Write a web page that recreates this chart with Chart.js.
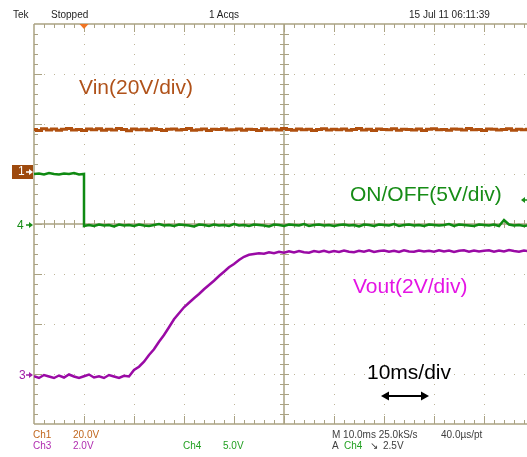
<!DOCTYPE html>
<html><head><meta charset="utf-8">
<script src="https://cdn.jsdelivr.net/npm/chart.js@4"></script>
<style>
html,body{margin:0;padding:0;background:#fff;overflow:hidden;width:527px;height:457px}
#wrap{position:relative;width:527px;height:457px}
canvas{position:absolute;left:0;top:0}
.t{position:absolute;white-space:nowrap;line-height:1;font-family:"Liberation Sans",Arial,sans-serif}
.s{font-size:10px}
.big{font-size:21px}
.dg{font-size:12px}
</style></head><body>
<div id="wrap"><canvas id="c" width="527" height="457"></canvas>
<div class="t s" style="left:13px;top:10px;color:#1e1e1e">Tek</div>
<div class="t s" style="left:51px;top:10px;color:#1e1e1e">Stopped</div>
<div class="t s" style="left:209px;top:10px;color:#1e1e1e">1 Acqs</div>
<div class="t s" style="left:409px;top:10px;color:#1e1e1e">15 Jul 11 06:11:39</div>

<div class="t big" style="left:79px;top:76px;color:#b0521a">Vin(20V/div)</div>
<div class="t big" style="left:350px;top:183px;color:#168c16">ON/OFF(5V/div)</div>
<div class="t big" style="left:353px;top:275px;color:#e414e4">Vout(2V/div)</div>
<div class="t big" style="left:367px;top:361px;color:#000">10ms/div</div>

<div class="t dg" style="left:18px;top:165px;color:#fff">1</div>
<div class="t dg" style="left:17px;top:219px;color:#168c16">4</div>
<div class="t dg" style="left:19px;top:369px;color:#a020a8">3</div>

<div class="t s" style="left:33px;top:430px;color:#c0661c">Ch1</div>
<div class="t s" style="left:73px;top:430px;color:#c0661c">20.0V</div>
<div class="t s" style="left:33px;top:441px;color:#b02cb0">Ch3</div>
<div class="t s" style="left:73px;top:441px;color:#b02cb0">2.0V</div>
<div class="t s" style="left:183px;top:441px;color:#22a022">Ch4</div>
<div class="t s" style="left:223px;top:441px;color:#22a022">5.0V</div>
<div class="t s" style="left:332px;top:430px;color:#404040">M 10.0ms 25.0kS/s</div>
<div class="t s" style="left:441px;top:430px;color:#404040">40.0µs/pt</div>
<div class="t s" style="left:332px;top:441px;color:#404040">A</div>
<div class="t s" style="left:344px;top:441px;color:#22a022">Ch4</div>
<div class="t s" style="left:370px;top:441px;color:#404040">↘</div>
<div class="t s" style="left:383px;top:441px;color:#404040">2.5V</div>
</div>
<script>
// ---- time base (ms), 10 ms/div, trigger at 0 ms ----
const timeMs = [
 -10,-9,-8,-7,-6,-5,-4,-3,-2,-1,
 0,1,2,3,4,5,6,7,8,9,
 10,11,12,13,14,15,16,17,18,19,
 20,21,22,23,24,25,26,27,28,29,
 30,31,32,33,34,35,36,37,38,39,
 40,41,42,43,44,45,46,47,48,49,
 50,51,52,53,54,55,56,57,58,59,
 60,61,62,63,64,65,66,67,68,69,
 70,71,72,73,74,75,76,77,78,79,
 80,81,82,83,84,85,86,87,88,89
];
// Ch1 Vin (V), 20 V/div
const vinVolts = [
 16.8,16.4,17.1,16.6,17.0,16.5,16.9,17.2,16.6,16.8,
 16.4,17.0,16.7,17.1,16.5,16.9,16.6,17.2,16.8,16.3,
 17.0,16.7,16.9,16.5,17.1,16.8,16.4,16.9,17.0,16.6,
 16.8,17.2,16.5,16.7,17.0,16.4,16.9,16.8,17.1,16.6,
 16.7,17.0,16.5,16.9,16.8,16.4,17.1,16.7,16.9,16.6,
 17.2,16.8,16.5,17.0,16.7,16.9,16.4,16.8,17.1,16.6,
 16.9,16.7,17.0,16.5,16.8,17.2,16.6,16.9,16.4,17.0,
 16.8,16.7,17.1,16.5,16.9,16.8,16.6,17.0,16.4,16.9,
 17.1,16.7,16.8,16.5,17.0,16.9,16.6,17.2,16.7,16.8,
 16.4,17.0,16.9,16.6,16.8,17.1,16.5,16.9,16.7,16.9
];
// Ch4 ON/OFF (V), 5 V/div — falls at trigger (t = 0)
const onoffTimeMs = [
 -10,-9,-8,-7,-6,-5,-4,-3,-2,-1,0,
 0,1,2,3,4,5,6,7,8,9,
 10,11,12,13,14,15,16,17,18,19,
 20,21,22,23,24,25,26,27,28,29,
 30,31,32,33,34,35,36,37,38,39,
 40,41,42,43,44,45,46,47,48,49,
 50,51,52,53,54,55,56,57,58,59,
 60,61,62,63,64,65,66,67,68,69,
 70,71,72,73,74,75,76,77,78,79,
 80,81,82,83,84,85,86,87,88,89
];
const onoffVolts = [
 5.1,5.15,5.05,5.2,5.1,5.05,5.15,5.1,5.2,5.05,5.1,
 -0.1,0.0,-0.1,0.05,-0.05,0.0,-0.15,0.05,-0.05,0.0,
 -0.1,0.05,-0.05,-0.1,0.0,0.1,-0.05,0.0,-0.1,0.05,
 0.0,-0.05,-0.15,0.05,0.0,-0.1,0.05,-0.05,0.0,-0.1,
 0.1,-0.05,0.0,-0.1,0.05,0.0,-0.05,-0.15,0.05,0.0,
 -0.1,0.05,0.0,-0.05,0.1,-0.1,0.0,0.05,-0.05,0.0,
 -0.1,0.0,0.05,-0.05,0.0,-0.15,0.05,0.0,-0.1,0.05,
 0.0,-0.05,0.1,-0.1,0.0,0.05,-0.05,0.0,-0.1,0.05,
 0.0,-0.05,0.0,0.1,-0.1,0.05,0.0,-0.05,-0.1,0.05,
 0.0,-0.05,0.05,-0.1,0.5,0.05,-0.05,0.0,-0.1,0.0
];
// Ch3 Vout (V), 2 V/div
const voutVolts = [
 -0.05,-0.12,0.0,-0.06,-0.12,-0.02,-0.1,0.02,-0.06,-0.12,
 -0.05,0.02,-0.1,-0.05,-0.12,0.0,-0.06,-0.12,-0.03,-0.06,
 0.2,0.33,0.53,0.8,1.03,1.33,1.6,1.91,2.23,2.47,
 2.71,2.89,3.07,3.24,3.43,3.6,3.77,3.96,4.13,4.31,
 4.44,4.6,4.73,4.81,4.84,4.87,4.85,4.91,4.87,4.93,
 4.89,4.95,4.9,4.96,4.91,4.89,4.96,4.92,4.97,4.91,
 4.96,4.92,4.98,4.93,4.91,4.97,4.93,4.99,4.92,4.96,
 4.98,4.93,4.97,4.92,4.99,4.94,4.93,4.98,4.94,4.97,
 4.93,4.99,4.94,4.98,4.92,4.97,4.99,4.93,4.98,4.94,
 4.97,4.99,4.93,4.98,4.94,5.0,4.96,4.93,4.98,4.95
];
// channel settings: volts per division, ground position (divisions above bottom of 8-div screen)
const ch1VoltsPerDiv = 20, ch1GroundDiv = 5.05;
const ch4VoltsPerDiv = 5,  ch4GroundDiv = 3.98;
const ch3VoltsPerDiv = 2,  ch3GroundDiv = 0.98;
const triggerLevelV = 2.5;
const screenDivs = 8;
const timeMin = -10, timeMax = 88.6, msPerDiv = 10;

const pts = (xs, ys) => xs.map((x, i) => ({x, y: ys[i]}));
const chAxis = (vpd, g) => ({type:'linear', axis:'y', position:'left', display:false, min:-g*vpd, max:(screenDivs-g)*vpd});

const GRID = '#aaa282', DOT = '#bcb59a';
const scopePlugin = {
  id:'scope',
  beforeDatasetsDraw(chart){
    const {ctx, chartArea:a, scales} = chart;
    const X = v => Math.round(scales.x.getPixelForValue(v));
    const Y = v => Math.round(scales.div.getPixelForValue(v));
    ctx.save();
    ctx.fillStyle = DOT;
    for (let d = 1; d < 10; d++) {
      if (d === 5) continue;
      const px = X(timeMin + d*msPerDiv);
      for (let m = 1; m < 40; m++) ctx.fillRect(px, Y(m*0.2), 1, 1);
    }
    for (let d = 1; d < 8; d++) {
      if (d === 4) continue;
      const py = Y(d);
      for (let m = 1; m < 50; m++) ctx.fillRect(X(timeMin + m*2), py, 1, 1);
    }
    ctx.strokeStyle = GRID; ctx.lineWidth = 1.5;
    const cx = X(timeMin + 5*msPerDiv), cy = Y(4);
    ctx.beginPath();
    ctx.moveTo(cx, a.top); ctx.lineTo(cx, a.bottom);
    ctx.moveTo(a.left, cy); ctx.lineTo(a.right, cy);
    ctx.moveTo(a.left, a.top); ctx.lineTo(a.right+2, a.top);
    ctx.moveTo(a.left, a.bottom); ctx.lineTo(a.right+2, a.bottom);
    ctx.moveTo(a.left, a.top); ctx.lineTo(a.left, a.bottom);
    ctx.stroke();
    ctx.lineWidth = 1;
    ctx.beginPath();
    for (let m = 1; m < 50; m++) {
      const px = X(timeMin + m*2) + 0.5;
      const L = m % 5 === 0 ? 8 : 4;
      ctx.moveTo(px, a.top); ctx.lineTo(px, a.top + L);
      ctx.moveTo(px, a.bottom); ctx.lineTo(px, a.bottom - L);
      ctx.moveTo(px, cy - 4); ctx.lineTo(px, cy + 4);
    }
    for (let m = 1; m < 40; m++) {
      const py = Y(m*0.2) + 0.5;
      const L = m % 5 === 0 ? 8 : 4;
      ctx.moveTo(a.left, py); ctx.lineTo(a.left + L, py);
      ctx.moveTo(cx - 4, py); ctx.lineTo(cx + 5, py);
    }
    ctx.stroke();
    ctx.restore();
  },
  afterDraw(chart){
    const {ctx, chartArea:a, scales} = chart;
    ctx.save();
    const tx = scales.x.getPixelForValue(0);
    ctx.fillStyle = '#f07424';
    ctx.beginPath(); ctx.moveTo(tx-4.5, a.top); ctx.lineTo(tx+4.5, a.top); ctx.lineTo(tx, a.top+5); ctx.closePath(); ctx.fill();
    const arrow = (y, col) => {
      ctx.strokeStyle = col; ctx.fillStyle = col; ctx.lineWidth = 1.5;
      ctx.beginPath(); ctx.moveTo(26, y); ctx.lineTo(30, y); ctx.stroke();
      ctx.beginPath(); ctx.moveTo(29, y-3); ctx.lineTo(33, y); ctx.lineTo(29, y+3); ctx.closePath(); ctx.fill();
    };
    const g1 = Math.round(scales.y1.getPixelForValue(0));
    ctx.fillStyle = '#9e4a0e'; ctx.fillRect(12, g1-7, 21, 14);
    arrow(g1, '#ffffff');
    arrow(Math.round(scales.y4.getPixelForValue(0)), '#168c16');
    arrow(Math.round(scales.y3.getPixelForValue(0)), '#a020a8');
    const ty = Math.round(scales.y4.getPixelForValue(triggerLevelV));
    ctx.fillStyle = '#168c16'; ctx.strokeStyle = '#168c16'; ctx.lineWidth = 1.5;
    ctx.beginPath(); ctx.moveTo(521, ty); ctx.lineTo(525, ty-3); ctx.lineTo(525, ty+3); ctx.closePath(); ctx.fill();
    ctx.beginPath(); ctx.moveTo(524, ty); ctx.lineTo(527, ty); ctx.stroke();
    const ax1 = 381, ax2 = 429, ay = 396;
    ctx.strokeStyle = '#000'; ctx.fillStyle = '#000'; ctx.lineWidth = 2;
    ctx.beginPath(); ctx.moveTo(ax1+5, ay); ctx.lineTo(ax2-5, ay); ctx.stroke();
    ctx.beginPath(); ctx.moveTo(ax1, ay); ctx.lineTo(ax1+8, ay-4.5); ctx.lineTo(ax1+8, ay+4.5); ctx.closePath(); ctx.fill();
    ctx.beginPath(); ctx.moveTo(ax2, ay); ctx.lineTo(ax2-8, ay-4.5); ctx.lineTo(ax2-8, ay+4.5); ctx.closePath(); ctx.fill();
    ctx.restore();
  }
};

const lineDs = (label, data, axis, color, width, stepped) => ({
  label, data, yAxisID: axis, borderColor: color, backgroundColor: color,
  borderWidth: width, pointRadius: 0, tension: 0, fill: false, stepped
});

new Chart(document.getElementById('c'), {
  type: 'line',
  data: { datasets: [
    lineDs('Vin', pts(timeMs, vinVolts), 'y1', '#b0500f', 3, 'middle'),
    lineDs('ON/OFF', pts(onoffTimeMs, onoffVolts), 'y4', '#0f8a12', 2.5, false),
    lineDs('Vout', pts(timeMs, voutVolts), 'y3', '#9a0aa5', 2.5, false)
  ]},
  options: {
    responsive: false, animation: false, devicePixelRatio: 1,
    layout: { padding: { left: 34, top: 24, right: 0, bottom: 33 } },
    plugins: { legend: {display:false}, tooltip: {enabled:false}, title:{display:false} },
    scales: {
      x: { type:'linear', axis:'x', position:'bottom', display:false, min: timeMin, max: timeMax },
      div: { type:'linear', axis:'y', position:'left', display:false, min: 0, max: screenDivs },
      y1: chAxis(ch1VoltsPerDiv, ch1GroundDiv),
      y4: chAxis(ch4VoltsPerDiv, ch4GroundDiv),
      y3: chAxis(ch3VoltsPerDiv, ch3GroundDiv)
    }
  },
  plugins: [scopePlugin]
});
</script>
</body></html>
